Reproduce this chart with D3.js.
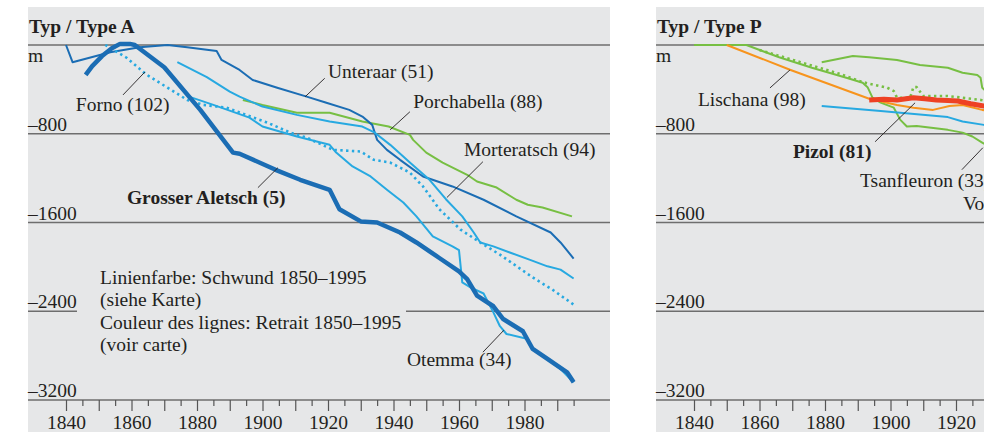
<!DOCTYPE html>
<html>
<head>
<meta charset="utf-8">
<script src="https://cdn.jsdelivr.net/npm/d3@7"></script>
<style>
  body { margin: 0; background: #fff; }
  svg { display: block; font-family: "Liberation Serif", "Times New Roman", serif; }
</style>
</head>
<body>
<svg id="chart" width="984" height="432"></svg>
<script>
// values: [year, metres]
const depthTicks = [0, -800, -1600, -2400, -3200];
const depthLabels = ["m", "–800", "–1600", "–2400", "–3200"];
const yearLabels = [1840, 1860, 1880, 1900, 1920, 1940, 1960, 1980];
const majorYears = [1840, 1850, 1860, 1870, 1880, 1890, 1900, 1910, 1920, 1930, 1940, 1950, 1960, 1970, 1980, 1990];
const minorYears = [1845, 1855, 1865, 1875, 1885, 1895, 1905, 1915, 1925, 1935, 1945, 1955, 1965, 1975, 1985, 1995];

// Typ A
const aletsch = [[1846,-270],[1848,-190],[1851,-100],[1854,-30],[1856.5,10],[1859.5,10],[1861,0],[1870,-200],
  [1881,-585],[1891,-970],[1893,-980],[1904,-1125],[1911.5,-1215],[1920.5,-1305],[1923.5,-1480],[1930,-1590],
  [1935,-1600],[1942,-1690],[1947,-1780],[1954,-1920],[1960,-2040],[1962.5,-2110],[1965.5,-2260],[1970.5,-2355],
  [1973.5,-2470],[1979.5,-2580],[1982.5,-2740],[1987,-2830],[1993,-2950],[1995,-3040]];
const unteraar = [[1840,0],[1842,-155],[1853.5,-65],[1862.5,-20],[1871,0],[1877,-20],[1886,-55],[1887.5,-135],
  [1893,-225],[1897,-315],[1904.5,-385],[1913.5,-465],[1919.5,-520],[1926.5,-585],[1930.5,-645],[1933.5,-720],
  [1935,-855],[1938,-945],[1942,-1035],[1949,-1185],[1958,-1275],[1967.5,-1395],[1977.5,-1545],[1988,-1690],
  [1991,-1780],[1995,-1925]];
const porchabella = [[1894,-495],[1900,-540],[1910.5,-610],[1920.5,-610],[1930.5,-690],[1938.5,-735],[1945,-810],
  [1946,-855],[1950,-970],[1955,-1060],[1962.5,-1170],[1965.5,-1230],[1971.5,-1285],[1977.5,-1395],[1981,-1440],
  [1985.5,-1465],[1994.5,-1545]];
const morteratsch = [[1874,-155],[1883,-290],[1890,-420],[1893,-465],[1900,-555],[1910.5,-630],[1920.5,-690],
  [1930.5,-735],[1934,-785],[1939,-900],[1945,-1060],[1951,-1215],[1956,-1390],[1961,-1545],[1964.5,-1690],
  [1966.5,-1780],[1970.5,-1815],[1975.5,-1870],[1981.5,-1935],[1987,-1995],[1991,-2025],[1995,-2105]];
const otemma = [[1878,-470],[1885,-540],[1896,-655],[1900,-735],[1910.5,-825],[1920.5,-900],[1922.5,-970],
  [1927.5,-1095],[1933,-1185],[1938,-1305],[1943,-1420],[1947,-1545],[1952,-1725],[1958,-1815],[1960,-1850],
  [1961,-2140],[1963.5,-2185],[1967.5,-2240],[1970.5,-2410],[1972.5,-2535],[1974.5,-2605],[1981,-2650],
  [1982.5,-2740],[1987,-2830],[1991,-2920],[1995,-3040]];
const forno = [[1852,0],[1858.5,-115],[1864.5,-265],[1871,-385],[1877,-495],[1882,-540],[1889,-565],[1895,-630],
  [1901.5,-700],[1908.5,-790],[1913.5,-835],[1921.5,-945],[1930,-960],[1934,-1035],[1939,-1060],[1945,-1150],
  [1949,-1275],[1954,-1480],[1960.5,-1665],[1966.5,-1780],[1972.5,-1890],[1982.5,-2095],[1988.5,-2205],[1995,-2340]];

// Typ P
const tsanfleuron = [[1840,0],[1856,0],[1866,-110],[1876,-205],[1886.5,-295],[1891.5,-340],[1893,-380],[1894.5,-475],
  [1897,-520],[1901,-565],[1903,-675],[1905,-735],[1908,-730],[1917.5,-765],[1922,-790],[1925,-825],[1928,-880],[1932,-950]];
const upperGreen = [[1879,-155],[1888.5,-100],[1893.5,-110],[1902,-135],[1909,-180],[1917.5,-205],[1922,-250],
  [1926.5,-270],[1927.5,-295],[1928,-385],[1930.5,-450]];
const dottedGreen = [[1860,-45],[1872.5,-155],[1884.5,-260],[1891.5,-335],[1899,-385],[1901,-415],[1902,-475],
  [1906,-475],[1907,-380],[1908,-380],[1910,-460],[1917.5,-460],[1927.5,-495],[1930.5,-510]];
const lischana = [[1850,0],[1869.5,-225],[1893.5,-485],[1902,-540],[1907,-565],[1913,-585],[1918,-550],
  [1922,-540],[1928,-585],[1932,-600]];
const pizol = [[1893.5,-495],[1898,-490],[1902,-495],[1907,-475],[1910.5,-485],[1914,-495],[1917.5,-500],
  [1920.5,-505],[1924.5,-530],[1928.5,-550],[1932,-565]];
const blueP = [[1879,-550],[1897,-595],[1917.5,-650],[1922,-690],[1928.5,-720],[1934,-750]];

const C = {
  dark: "#1b6db4", light: "#27a9e1", green: "#77bf43", orange: "#f7941d",
  red: "#ee4124", bg: "#e6e7e8", grid: "#6e6e6e", text: "#231f20"
};

const W = 984;
const fs = 19.5;
const svg = d3.select("#chart");
const y = d3.scaleLinear().domain([0, -3200]).range([45, 400]);
const panelW = 582;
const yearPx = 3.275;

function drawPanel(p) {
  const x = d3.scaleLinear().domain([1840, 1995]).range([p.x1840, p.x1840 + 155 * yearPx]);
  const g = svg.append("g");
  const right = p.left + panelW;
  const visible = d => x(d) < W - 10;

  g.append("rect").attr("x", p.left).attr("y", 7).attr("width", panelW).attr("height", 425).attr("fill", C.bg);

  g.append("text").attr("x", p.left + 1).attr("y", 33).attr("font-size", fs).attr("font-weight", "bold")
    .attr("fill", C.text).text(p.title);

  // gridlines
  depthTicks.forEach((v, i) => {
    const segs = (v === -2400 && p.gap) ? [[p.left, p.gap[0]], [p.gap[1], right]] : [[p.left, right]];
    segs.forEach(s => {
      g.append("line").attr("x1", s[0]).attr("x2", s[1]).attr("y1", y(v)).attr("y2", y(v))
        .attr("stroke", C.grid).attr("stroke-width", i < 2 ? 1.5 : 1.3);
    });
    g.append("text").attr("x", p.left).attr("y", i === 0 ? y(v) + 17 : y(v) - 3)
      .attr("font-size", fs).attr("fill", C.text).text(depthLabels[i]);
  });

  // year axis
  const axMajor = g.append("g").attr("transform", `translate(0,${y(-3200)})`)
    .call(d3.axisBottom(x).tickValues(majorYears.filter(visible)).tickSize(11).tickPadding(4)
      .tickFormat(d => yearLabels.includes(d) ? d : ""));
  const axMinor = g.append("g").attr("transform", `translate(0,${y(-3200)})`)
    .call(d3.axisBottom(x).tickValues(minorYears.filter(visible)).tickSize(6).tickFormat(""));
  [axMajor, axMinor].forEach(a => {
    a.attr("font-family", null).attr("font-size", fs);
    a.select(".domain").remove();
    a.selectAll("line").attr("stroke", "#555").attr("stroke-width", 1.2);
    a.selectAll("text").attr("fill", C.text);
  });

  const line = d3.line().x(d => x(d[0])).y(d => y(d[1]));
  g.selectAll("path.series").data(p.series).join("path")
    .attr("class", "series")
    .attr("d", s => line(s.data))
    .attr("fill", "none")
    .attr("stroke", s => s.color)
    .attr("stroke-width", s => s.width)
    .attr("stroke-dasharray", s => s.dash || null)
    .attr("stroke-linejoin", "round");

  // labels with leader lines
  p.notes.forEach(n => {
    if (n.from) {
      g.append("line").attr("x1", x(n.from[0])).attr("y1", y(n.from[1]))
        .attr("x2", x(n.to[0])).attr("y2", y(n.to[1]))
        .attr("stroke", C.text).attr("stroke-width", 0.9);
    }
    g.append("text").attr("x", x(n.at[0])).attr("y", y(n.at[1])).attr("font-size", fs)
      .attr("font-weight", n.bold ? "bold" : null).attr("fill", C.text).text(n.text);
  });
  return x;
}

drawPanel({
  left: 28, x1840: 66, title: "Typ / Type A", gap: [77, 406],
  series: [
    { data: porchabella, color: C.green, width: 2 },
    { data: unteraar, color: C.dark, width: 2 },
    { data: morteratsch, color: C.light, width: 2 },
    { data: otemma, color: C.light, width: 2 },
    { data: forno, color: C.light, width: 2.6, dash: "2.4 3.4" },
    { data: aletsch, color: C.dark, width: 4.5 }
  ],
  notes: [
    { text: "Unteraar (51)", at: [1920, -297], from: [1919, -300], to: [1913, -467] },
    { text: "Porchabella (88)", at: [1946, -566], from: [1945, -602], to: [1939, -764] },
    { text: "Morteratsch (94)", at: [1961.5, -998], from: [1967.3, -1052], to: [1956.3, -1375] },
    { text: "Forno (102)", at: [1843, -593], from: [1857.4, -450], to: [1864.1, -243] },
    { text: "Grosser Aletsch (5)", at: [1858.6, -1429], bold: true, from: [1898.6, -1286], to: [1904.7, -1106] },
    { text: "Otemma (34)", at: [1944.1, -2895], from: [1967.3, -2769], to: [1973.7, -2571] },
    { text: "Linienfarbe: Schwund 1850–1995", at: [1850.4, -2158] },
    { text: "(siehe Karte)", at: [1850.4, -2350] },
    { text: "Couleur des lignes: Retrait 1850–1995", at: [1850.4, -2562] },
    { text: "(voir carte)", at: [1850.4, -2760] }
  ]
});

drawPanel({
  left: 656, x1840: 694, title: "Typ / Type P",
  series: [
    { data: tsanfleuron, color: C.green, width: 2 },
    { data: upperGreen, color: C.green, width: 2 },
    { data: dottedGreen, color: C.green, width: 2.6, dash: "2.4 3.4" },
    { data: lischana, color: C.orange, width: 2 },
    { data: blueP, color: C.light, width: 2 },
    { data: pizol, color: C.red, width: 5 }
  ],
  notes: [
    { text: "Lischana (98)", at: [1841.2, -548], from: [1863.2, -387], to: [1869.3, -225] },
    { text: "Pizol (81)", at: [1870.2, -1016], bold: true, from: [1895.3, -872], to: [1907.5, -521] },
    { text: "Tsanfleuron (33)", at: [1890.7, -1277], from: [1921.8, -1124], to: [1928.2, -926] },
    { text: "Vorab (63)", at: [1922.1, -1483] }
  ]
});
</script>
</body>
</html>
